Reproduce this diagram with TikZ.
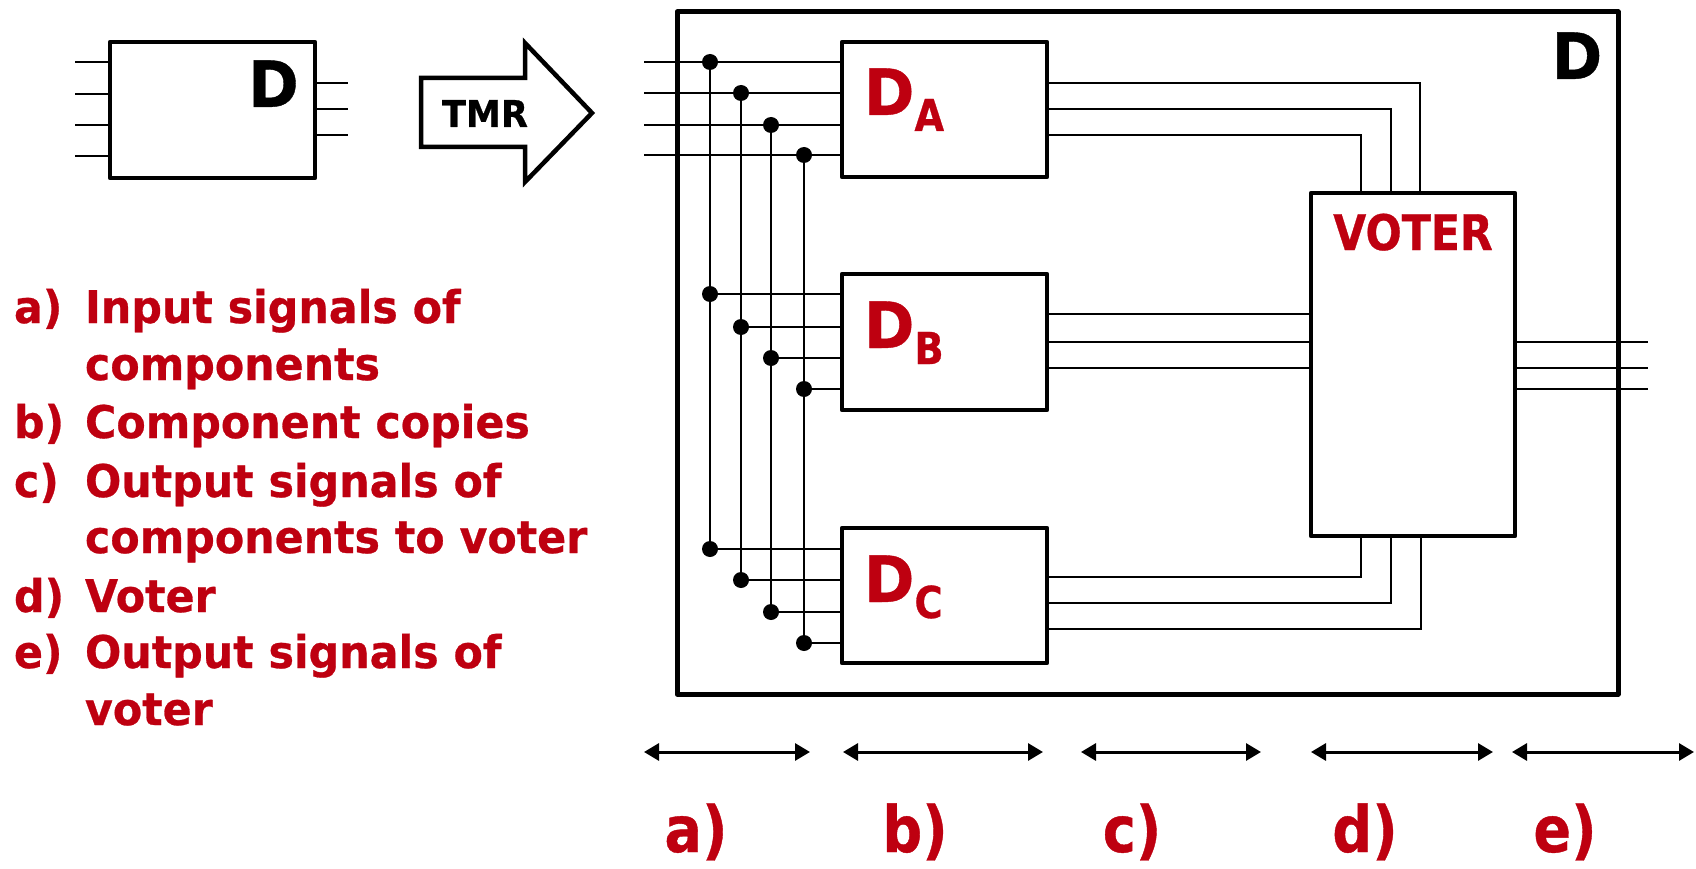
\documentclass[tikz,border=0pt]{standalone}
\usepackage{fontspec}
\setmainfont{DejaVu Sans}[FakeStretch=0.95,FakeBold=0.6]
\newfontfamily\narrowfont{DejaVu Sans}[FakeStretch=0.87,FakeBold=0.6]
\usetikzlibrary{arrows.meta}
\definecolor{tred}{RGB}{190,0,16}
\newcommand{\fs}[1]{\fontsize{#1}{#1}\selectfont}
\begin{document}
\begin{tikzpicture}[x=1pt,y=-1pt,
  every node/.style={inner sep=0pt,outer sep=0pt},
  box/.style={draw,line width=4.5pt,rectangle,line join=round},
  wire/.style={line width=2pt},
  dot/.style={circle,fill=black,minimum size=16pt},
  lst/.style={anchor=base west,text=tred,font=\bfseries\fs{45}},
  big/.style={anchor=base,font=\bfseries\fs{64}},
  sub/.style={anchor=base west,text=tred,font=\bfseries\fs{64}},
  span/.style={line width=3pt,{Triangle[length=15pt,width=17pt]}-{Triangle[length=15pt,width=17pt]}},
  sl/.style={anchor=base,text=tred,font=\narrowfont\bfseries\fs{64}}]
\useasboundingbox (0,0) rectangle (1696,869);
% ---------- small component D ----------
\node[box,minimum width=205pt,minimum height=136pt] (sD) at (212.5,110) {};
\node[big] (sDl) at (273.5,107) {D};
\foreach \y [count=\i] in {62,94,125,156}{
  \coordinate (si\i) at (75,\y);
  \draw[wire] (si\i) -- (si\i -| sD.west);}
\foreach \y [count=\i] in {83,109,135}{
  \coordinate (so\i) at (348,\y);
  \draw[wire] (so\i -| sD.east) -- (so\i);}
% ---------- TMR arrow ----------
\draw[line width=4.5pt,line join=miter] (421,78) -- (525,78) -- (525,43) -- (592,113)
  -- (525,182) -- (525,147) -- (421,147) -- cycle;
\node[anchor=base,font=\bfseries\fs{37}] (tmr) at (485,127) {TMR};
% ---------- list ----------
\node[lst] (la) at (14,323) {a)};
\node[lst] (ta) at (85,323) {Input signals of};
\node[lst] (ta2) at (85,380) {components};
\node[lst] (lb) at (14,438) {b)};
\node[lst] (tb) at (85,438) {Component copies};
\node[lst] (lc) at (14,497) {c)};
\node[lst] (tc) at (85,497) {Output signals of};
\node[lst] (tc2) at (85,553) {components to voter};
\node[lst] (ld) at (14,612) {d)};
\node[lst] (td) at (85,612) {Voter};
\node[lst] (le) at (14,668) {e)};
\node[lst] (te) at (85,668) {Output signals of};
\node[lst] (te2) at (85,725) {voter};
% ---------- TMR structure ----------
\node[box,line width=5pt,minimum width=941pt,minimum height=682pt] (D) at (1147.5,353) {};
\node[big] (Dl) at (1577,79) {D};
\node[box,minimum width=205pt,minimum height=135pt] (DA) at (944.5,109.5) {};
\node[box,minimum width=205pt,minimum height=136pt] (DB) at (944.5,342) {};
\node[box,minimum width=205pt,minimum height=135pt] (DC) at (944.5,595.5) {};
\node[box,minimum width=204pt,minimum height=343pt] (V) at (1413,364.5) {};
\node[sub] (DAl) at (864,115) {D\raisebox{-16pt}{\narrowfont\bfseries\fs{44}A}};
\node[sub] (DBl) at (864,348) {D\raisebox{-16pt}{\narrowfont\bfseries\fs{44}B}};
\node[sub] (DCl) at (864,602) {D\raisebox{-16pt}{\narrowfont\bfseries\fs{44}C}};
\node[anchor=base,text=tred,font=\narrowfont\bfseries\fs{49}] (Vl) at (1413,250) {VOTER};
% inputs and fan-out
\foreach \x/\ya/\yb/\yc [count=\i] in {710/62/294/549, 741/93/327/580, 771/125/358/612, 804/155/389/643}{
  \coordinate (in\i) at (644,\ya);
  \node[dot] (pa\i) at (\x,\ya) {};
  \node[dot] (pb\i) at (\x,\yb) {};
  \node[dot] (pc\i) at (\x,\yc) {};
  \draw[wire] (in\i) -- (in\i -| DA.west);
  \draw[wire] (pa\i.center) -- (pc\i.center);
  \draw[wire] (pb\i.center) -- (pb\i.center -| DB.west);
  \draw[wire] (pc\i.center) -- (pc\i.center -| DC.west);}
% outputs of copies to voter
\foreach \y/\x [count=\i] in {83/1420,109/1391,135/1361}{
  \coordinate (ta\i) at (\x,\y);
  \draw[wire] (ta\i -| DA.east) -- (ta\i) -- (ta\i |- V.north);}
\foreach \y [count=\i] in {314,342,368}{
  \coordinate (tb\i) at (1100,\y);
  \draw[wire] (tb\i -| DB.east) -- (tb\i -| V.west);}
\foreach \y/\x [count=\i] in {577/1361,603/1391,629/1421}{
  \coordinate (tc\i) at (\x,\y);
  \draw[wire] (tc\i -| DC.east) -- (tc\i) -- (tc\i |- V.south);}
% voter outputs
\foreach \y [count=\i] in {342,368,389}{
  \coordinate (vo\i) at (1648,\y);
  \draw[wire] (vo\i -| V.east) -- (vo\i);}
% ---------- ranges ----------
\foreach \a/\b/\c/\t [count=\i] in {644/810/696/a, 843/1043/915/b, 1081/1261/1132/c, 1311/1493/1365/d, 1512/1694/1565/e}{
  \coordinate (r\i s) at (\a,752);
  \coordinate (r\i e) at (\b,752);
  \draw[span] (r\i s) -- (r\i e);
  \node[sl] (rl\i) at (\c,852) {\t)};}
\end{tikzpicture}
\end{document}
